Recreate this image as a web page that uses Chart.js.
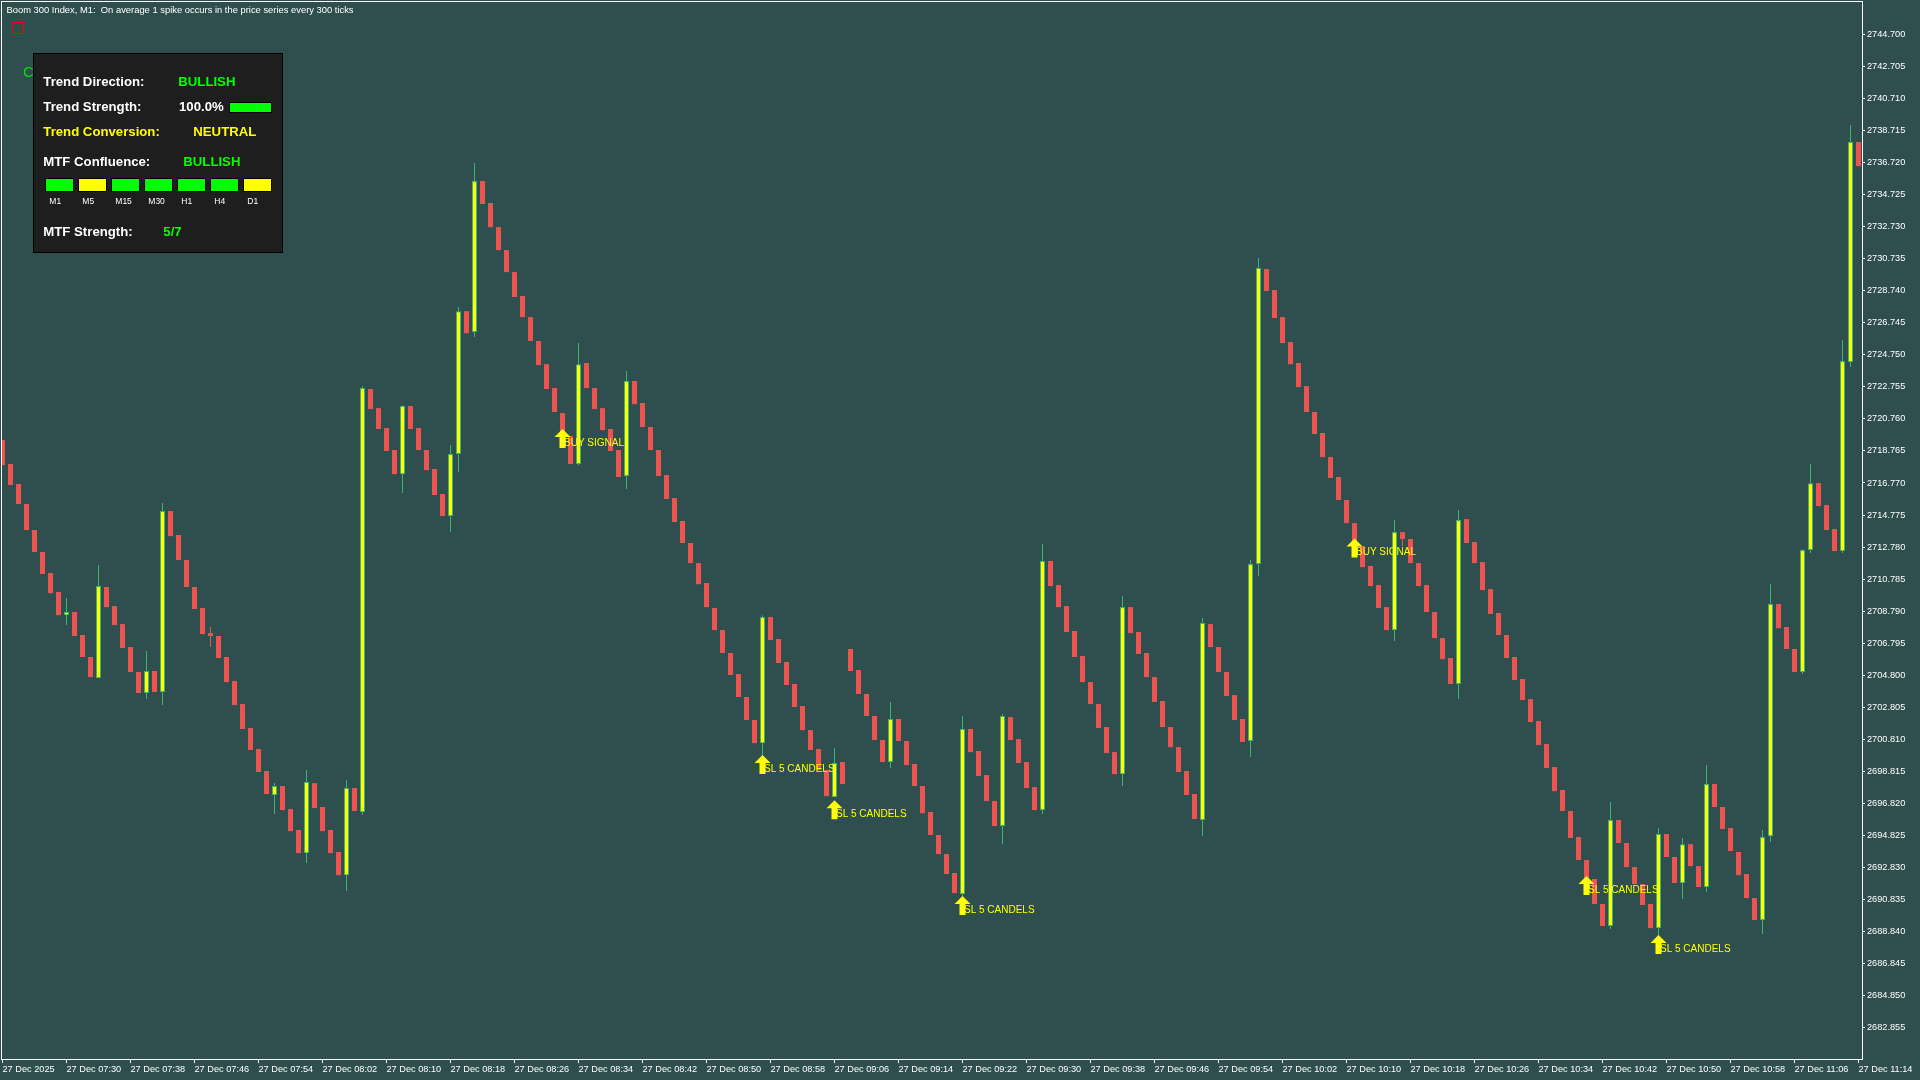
<!DOCTYPE html>
<html><head><meta charset="utf-8">
<script src="https://cdn.jsdelivr.net/npm/chart.js@4.4.1/dist/chart.umd.min.js"></script>
<style>html,body{margin:0;padding:0;background:#2F4F4F;overflow:hidden}canvas{display:block}</style>
</head><body>
<canvas id="c" width="1920" height="1080" style="width:1920px;height:1080px"></canvas>
<script>
// ---- data (Boom 300 Index, M1, one bar per minute from 07:22) ----
const opens = [
2719.44,2717.95,2716.70,2715.46,2713.84,2712.47,2711.16,2709.98,2708.54,2708.73,
2707.30,2705.93,2704.62,2710.29,2709.10,2707.98,2706.55,2705.00,2703.69,2705.06,
2703.75,2715.02,2713.53,2711.97,2710.29,2708.98,2707.42,2707.24,2705.93,2704.43,
2703.00,2701.51,2700.20,2698.83,2697.34,2697.90,2696.46,2695.16,2693.72,2698.08,
2696.59,2695.16,2693.79,2692.35,2697.77,2696.28,2722.62,2721.43,2720.19,2718.82,
2717.32,2721.56,2720.19,2718.82,2717.64,2716.08,2714.71,2718.57,2727.47,2726.17,
2735.57,2734.20,2732.70,2731.27,2729.90,2728.41,2727.10,2725.61,2724.17,2722.68,
2721.12,2719.69,2717.95,2724.24,2722.68,2721.43,2720.13,2718.82,2717.20,2723.12,
2721.75,2720.25,2718.82,2717.26,2715.83,2714.40,2713.03,2711.78,2710.54,2708.98,
2707.61,2706.18,2704.87,2703.44,2702.01,2700.57,2708.42,2707.05,2705.62,2704.25,
2702.88,2701.38,2700.20,2698.89,2697.21,2699.39,2706.43,2705.12,2703.63,2702.26,
2700.76,2699.39,2702.07,2700.70,2699.27,2697.90,2696.28,2694.85,2693.66,2692.48,
2691.17,2701.45,2700.08,2698.58,2696.96,2695.41,2702.19,2700.82,2699.39,2697.83,
2696.40,2711.91,2710.41,2709.10,2707.55,2705.99,2704.37,2703.00,2701.57,2700.01,
2698.64,2709.04,2707.49,2706.18,2704.68,2703.19,2701.57,2700.32,2698.83,2697.40,
2695.78,2707.98,2706.55,2705.00,2703.56,2702.07,2700.70,2711.72,2730.09,2728.78,
2727.10,2725.54,2724.24,2722.80,2721.19,2719.88,2718.38,2717.14,2715.71,2714.27,
2712.84,2711.60,2710.41,2709.04,2707.61,2713.71,2713.28,2711.78,2710.41,2708.73,
2707.11,2705.87,2704.25,2714.52,2713.09,2711.84,2710.16,2708.67,2707.30,2705.93,
2704.56,2703.31,2701.94,2700.51,2699.08,2697.65,2696.34,2694.72,2693.29,2692.11,
2690.55,2689.18,2695.78,2694.35,2692.85,2691.79,2690.55,2689.05,2694.91,2693.48,
2691.86,2694.28,2692.91,2691.61,2698.02,2696.59,2695.28,2693.79,2692.42,2690.92,
2689.55,2694.78,2709.23,2707.80,2706.43,2705.00,2712.59,2716.76,2715.39,2713.90,
2712.53,2724.30,2738.00];
const highs = [
2719.44,2717.95,2716.70,2715.46,2713.84,2712.47,2711.16,2709.98,2709.60,2708.73,
2707.30,2705.93,2711.66,2710.29,2709.10,2707.98,2706.55,2705.00,2706.30,2705.06,
2715.52,2715.02,2713.53,2711.97,2710.29,2708.98,2707.80,2707.24,2705.93,2704.43,
2703.00,2701.51,2700.20,2698.83,2698.08,2697.90,2696.46,2695.16,2698.89,2698.08,
2696.59,2695.16,2693.79,2698.27,2697.77,2722.80,2722.62,2721.43,2720.19,2718.82,
2721.62,2721.56,2720.19,2718.82,2717.64,2716.08,2719.13,2727.72,2727.47,2736.69,
2735.57,2734.20,2732.70,2731.27,2729.90,2728.41,2727.10,2725.61,2724.17,2722.68,
2721.12,2719.69,2725.48,2724.24,2722.68,2721.43,2720.13,2718.82,2723.74,2723.12,
2721.75,2720.25,2718.82,2717.26,2715.83,2714.40,2713.03,2711.78,2710.54,2708.98,
2707.61,2706.18,2704.87,2703.44,2702.01,2708.54,2708.42,2707.05,2705.62,2704.25,
2702.88,2701.38,2700.20,2698.89,2700.26,2699.39,2706.43,2705.12,2703.63,2702.26,
2700.76,2703.13,2702.07,2700.70,2699.27,2697.90,2696.28,2694.85,2693.66,2692.48,
2702.26,2701.45,2700.08,2698.58,2696.96,2702.38,2702.19,2700.82,2699.39,2697.83,
2712.97,2711.91,2710.41,2709.10,2707.55,2705.99,2704.37,2703.00,2701.57,2700.01,
2709.73,2709.04,2707.49,2706.18,2704.68,2703.19,2701.57,2700.32,2698.83,2697.40,
2708.36,2707.98,2706.55,2705.00,2703.56,2702.07,2711.97,2730.78,2730.09,2728.78,
2727.10,2725.54,2724.24,2722.80,2721.19,2719.88,2718.38,2717.14,2715.71,2714.27,
2712.84,2711.60,2710.41,2709.04,2714.46,2713.71,2713.28,2711.78,2710.41,2708.73,
2707.11,2705.87,2715.08,2714.52,2713.09,2711.84,2710.16,2708.67,2707.30,2705.93,
2704.56,2703.31,2701.94,2700.51,2699.08,2697.65,2696.34,2694.72,2693.29,2692.11,
2690.55,2696.90,2695.78,2694.35,2692.85,2691.79,2690.55,2695.28,2694.91,2693.48,
2694.66,2694.28,2692.91,2699.20,2698.02,2696.59,2695.28,2693.79,2692.42,2690.92,
2695.16,2710.47,2709.23,2707.80,2706.43,2712.65,2717.95,2716.76,2715.39,2713.90,
2725.67,2739.06,2738.00];
const lows = [
2717.88,2716.64,2715.46,2713.84,2712.47,2711.10,2709.91,2708.54,2707.92,2707.24,
2705.93,2704.68,2704.62,2709.04,2707.92,2706.49,2705.00,2703.69,2703.31,2703.75,
2702.94,2713.46,2711.97,2710.29,2708.92,2707.36,2706.55,2705.87,2704.37,2702.94,
2701.45,2700.14,2698.77,2697.40,2696.15,2696.40,2695.09,2693.72,2693.10,2696.53,
2695.09,2693.72,2692.35,2691.36,2696.34,2696.09,2721.37,2720.13,2718.76,2717.32,
2716.14,2720.13,2718.82,2717.57,2716.02,2714.71,2713.71,2717.45,2726.10,2725.86,
2734.14,2732.70,2731.27,2729.90,2728.35,2727.10,2725.61,2724.11,2722.62,2721.19,
2719.63,2717.95,2717.88,2722.68,2721.37,2720.06,2718.76,2717.14,2716.39,2721.68,
2720.25,2718.82,2717.20,2715.77,2714.34,2713.03,2711.78,2710.47,2709.04,2707.61,
2706.18,2704.81,2703.44,2702.01,2700.57,2699.70,2706.99,2705.56,2704.19,2702.82,
2701.38,2700.14,2698.89,2697.27,2697.21,2698.02,2705.06,2703.63,2702.26,2700.76,
2699.39,2699.02,2700.70,2699.20,2697.90,2696.21,2694.85,2693.66,2692.42,2691.23,
2690.98,2700.01,2698.52,2696.96,2695.41,2694.28,2700.76,2699.33,2697.77,2696.40,
2696.15,2710.35,2709.04,2707.49,2705.93,2704.37,2703.00,2701.51,2699.95,2698.64,
2697.90,2707.42,2706.12,2704.68,2703.13,2701.57,2700.32,2698.77,2697.34,2695.84,
2694.78,2706.55,2705.00,2703.50,2702.01,2700.64,2699.70,2710.97,2728.72,2727.04,
2725.48,2724.17,2722.74,2721.19,2719.82,2718.38,2717.08,2715.71,2714.27,2712.84,
2711.53,2710.35,2708.98,2707.61,2706.93,2712.84,2711.78,2710.35,2708.73,2707.11,
2705.80,2704.25,2703.31,2713.03,2711.78,2710.10,2708.61,2707.30,2705.87,2704.50,
2703.25,2701.88,2700.45,2699.02,2697.58,2696.34,2694.66,2693.29,2692.11,2690.55,
2689.18,2688.99,2694.35,2692.85,2691.79,2690.49,2689.05,2688.49,2693.48,2691.86,
2690.86,2692.91,2691.61,2691.30,2696.59,2695.22,2693.85,2692.35,2690.92,2689.55,
2688.68,2694.41,2707.73,2706.43,2705.00,2704.87,2712.41,2715.33,2713.84,2712.53,
2712.41,2723.99,2736.50];
const closes = [
2717.88,2716.64,2715.46,2713.84,2712.47,2711.10,2709.91,2708.54,2708.73,2707.24,
2705.93,2704.68,2710.35,2709.04,2707.92,2706.49,2705.00,2703.69,2705.06,2703.75,
2715.02,2713.46,2711.97,2710.29,2708.92,2707.36,2707.24,2705.87,2704.37,2702.94,
2701.45,2700.14,2698.77,2697.40,2697.90,2696.40,2695.09,2693.72,2698.15,2696.53,
2695.09,2693.72,2692.35,2697.77,2696.34,2722.68,2721.37,2720.13,2718.76,2717.32,
2721.56,2720.13,2718.82,2717.57,2716.02,2714.71,2718.57,2727.47,2726.10,2735.57,
2734.14,2732.70,2731.27,2729.90,2728.35,2727.10,2725.61,2724.11,2722.62,2721.19,
2719.63,2717.95,2724.17,2722.68,2721.37,2720.06,2718.76,2717.14,2723.12,2721.68,
2720.25,2718.82,2717.20,2715.77,2714.34,2713.03,2711.78,2710.47,2709.04,2707.61,
2706.18,2704.81,2703.44,2702.01,2700.57,2708.42,2706.99,2705.56,2704.19,2702.82,
2701.38,2700.14,2698.89,2697.27,2699.33,2698.02,2705.06,2703.63,2702.26,2700.76,
2699.39,2702.07,2700.70,2699.20,2697.90,2696.21,2694.85,2693.66,2692.42,2691.23,
2701.45,2700.01,2698.52,2696.96,2695.41,2702.26,2700.76,2699.33,2697.77,2696.40,
2711.91,2710.35,2709.04,2707.49,2705.93,2704.37,2703.00,2701.51,2699.95,2698.64,
2709.04,2707.42,2706.12,2704.68,2703.13,2701.57,2700.32,2698.77,2697.34,2695.84,
2708.05,2706.55,2705.00,2703.50,2702.01,2700.64,2711.72,2730.15,2728.72,2727.04,
2725.48,2724.17,2722.74,2721.19,2719.82,2718.38,2717.08,2715.71,2714.27,2712.84,
2711.53,2710.35,2708.98,2707.61,2713.71,2713.28,2711.78,2710.35,2708.73,2707.11,
2705.80,2704.25,2714.46,2713.03,2711.78,2710.10,2708.61,2707.30,2705.87,2704.50,
2703.25,2701.88,2700.45,2699.02,2697.58,2696.34,2694.66,2693.29,2692.11,2690.55,
2689.18,2695.78,2694.35,2692.85,2691.79,2690.49,2689.05,2694.91,2693.48,2691.86,
2694.28,2692.91,2691.61,2698.02,2696.59,2695.22,2693.85,2692.35,2690.92,2689.55,
2694.72,2709.23,2707.73,2706.43,2705.00,2712.59,2716.76,2715.33,2713.84,2712.53,
2724.36,2738.00,2736.50];

const yTickLabels = ["2744.700","2742.705","2740.710","2738.715","2736.720","2734.725","2732.730","2730.735",
"2728.740","2726.745","2724.750","2722.755","2720.760","2718.765","2716.770","2714.775","2712.780","2710.785",
"2708.790","2706.795","2704.800","2702.805","2700.810","2698.815","2696.820","2694.825","2692.830","2690.835",
"2688.840","2686.845","2684.850","2682.855"];
const xTickLabels = ["27 Dec 2025","27 Dec 07:30","27 Dec 07:38","27 Dec 07:46","27 Dec 07:54","27 Dec 08:02",
"27 Dec 08:10","27 Dec 08:18","27 Dec 08:26","27 Dec 08:34","27 Dec 08:42","27 Dec 08:50","27 Dec 08:58",
"27 Dec 09:06","27 Dec 09:14","27 Dec 09:22","27 Dec 09:30","27 Dec 09:38","27 Dec 09:46","27 Dec 09:54",
"27 Dec 10:02","27 Dec 10:10","27 Dec 10:18","27 Dec 10:26","27 Dec 10:34","27 Dec 10:42","27 Dec 10:50",
"27 Dec 10:58","27 Dec 11:06","27 Dec 11:14"];
const xTickBars = [0,8,16,24,32,40,48,56,64,72,80,88,96,104,112,120,128,136,144,152,160,168,176,184,192,200,208,216,224,232];

const signalBars   = [70, 95, 104, 120, 169, 198, 207];
const signalPrices = [2720.13, 2699.83, 2697.02, 2691.05, 2713.31, 2692.29, 2688.62];
const signalTexts  = ["BUY SIGNAL","SL 5 CANDELS","SL 5 CANDELS","SL 5 CANDELS","BUY SIGNAL","SL 5 CANDELS","SL 5 CANDELS"];

const tfNames  = ["M1","M5","M15","M30","H1","H4","D1"];
const tfStates = ["bull","neutral","bull","bull","bull","bull","neutral"];

// ---- styling ----
const BG = '#2F4F4F', BULL = '#FFFF00', BULL_EDGE = '#3CB371', BEAR = '#EF5350';
const LIME = '#00FF00', YEL = '#FFFF00';
const FONT = '"Liberation Sans", Arial, sans-serif';

const isBull = closes.map((c,i)=> c >= opens[i]);
const bodyData = opens.map((o,i)=>({x:i, y:[o, closes[i]]}));
const wickData = lows.map((l,i)=>({x:i, y:[l, highs[i]]}));

const noPad = ax => { ax.paddingTop = 0; ax.paddingBottom = 0; ax.paddingLeft = 0; ax.paddingRight = 0; };

const overlay = {
  id:'overlay',
  beforeDraw(chart){
    const ctx = chart.ctx;
    ctx.save(); ctx.fillStyle = BG; ctx.fillRect(0,0,chart.width,chart.height); ctx.restore();
  },
  afterDatasetsDraw(chart){
    const ctx = chart.ctx, xs = chart.scales.x, ys = chart.scales.y, a = chart.chartArea;
    ctx.save();
    ctx.beginPath(); ctx.rect(a.left, a.top, a.right-a.left, a.bottom-a.top); ctx.clip();
    signalBars.forEach((b,k)=>{
      const cx = xs.getPixelForValue(b), top = ys.getPixelForValue(signalPrices[k]);
      ctx.fillStyle = YEL;
      ctx.beginPath();
      ctx.moveTo(cx, top); ctx.lineTo(cx+8, top+8); ctx.lineTo(cx+3, top+8); ctx.lineTo(cx+3, top+19);
      ctx.lineTo(cx-3, top+19); ctx.lineTo(cx-3, top+8); ctx.lineTo(cx-8, top+8); ctx.closePath(); ctx.fill();
      ctx.font = '10px ' + FONT; ctx.textBaseline = 'middle'; ctx.textAlign = 'left';
      ctx.fillText(signalTexts[k], cx+1.5, top+14);
    });
    ctx.restore();
  },
  afterDraw(chart){
    const ctx = chart.ctx, a = chart.chartArea;
    ctx.save();
    // frame
    ctx.strokeStyle = '#FFFFFF'; ctx.lineWidth = 1;
    ctx.strokeRect(a.left-0.5, a.top-0.5, a.right-a.left+1, a.bottom-a.top+1);
    // title
    ctx.fillStyle = '#FFFFFF'; ctx.font = '9.4px ' + FONT; ctx.textBaseline = 'alphabetic'; ctx.textAlign = 'left';
    ctx.fillText('Boom 300 Index, M1:  On average 1 spike occurs in the price series every 300 ticks', 6.5, 12.7);
    // small red square
    ctx.strokeStyle = '#FF0000'; ctx.strokeRect(12.5, 22.5, 11, 11);
    // green letter peeking out behind the panel
    ctx.fillStyle = '#00E000'; ctx.font = '15px ' + FONT; ctx.fillText('C', 23, 76.5);
    // panel
    ctx.fillStyle = '#1E1E1E'; ctx.fillRect(33, 53, 250, 200);
    ctx.strokeStyle = '#000000'; ctx.strokeRect(33.5, 53.5, 249, 199);
    ctx.font = 'bold 13.2px ' + FONT;
    const rows = [
      ['Trend Direction:', 43.3, 86, '#FFFFFF'], ['BULLISH', 178.3, 86, LIME],
      ['Trend Strength:', 43.3, 111, '#FFFFFF'], ['100.0%', 179, 111, '#FFFFFF'],
      ['Trend Conversion:', 43.3, 136, YEL], ['NEUTRAL', 193.3, 136, YEL],
      ['MTF Confluence:', 43.3, 165.7, '#FFFFFF'], ['BULLISH', 183.3, 165.7, LIME],
      ['MTF Strength:', 43.3, 236, '#FFFFFF'], ['5/7', 163.3, 236, LIME]
    ];
    rows.forEach(r=>{ ctx.fillStyle = r[3]; ctx.fillText(r[0], r[1], r[2]); });
    // strength bar
    ctx.fillStyle = LIME; ctx.fillRect(229, 102, 43, 11);
    ctx.strokeStyle = '#000'; ctx.strokeRect(229.5, 102.5, 42, 10);
    // MTF boxes
    ctx.font = '8.5px ' + FONT;
    tfNames.forEach((n,k)=>{
      const x = 45 + 33*k;
      ctx.fillStyle = tfStates[k] === 'bull' ? LIME : YEL;
      ctx.fillRect(x, 178, 29, 14);
      ctx.strokeStyle = '#000'; ctx.strokeRect(x+0.5, 178.5, 28, 13);
      ctx.fillStyle = '#FFFFFF'; ctx.fillText(n, x+4.3, 204);
    });
    ctx.restore();
  }
};

new Chart(document.getElementById('c'), {
  type:'bar',
  data:{ datasets:[
    { label:'body', data: bodyData, grouped:false, barThickness:5, inflateAmount:0,
      backgroundColor: isBull.map(b=> b ? BULL : BEAR),
      borderColor: isBull.map(b=> b ? BULL_EDGE : BEAR),
      borderWidth: isBull.map(b=> b ? 1 : 0), borderSkipped:false },
    { label:'wick', data: wickData, grouped:false, barThickness:1, inflateAmount:0,
      backgroundColor: isBull.map(b=> b ? BULL_EDGE : BEAR), borderWidth:0 }
  ]},
  options:{
    responsive:false, animation:false, devicePixelRatio:1,
    layout:{ padding:{ left:2, top:2, right:0, bottom:0 } },
    plugins:{ legend:{display:false}, tooltip:{enabled:false} },
    scales:{
      x:{ type:'linear', position:'bottom', min:-0.0625, max:232.4375, offset:false,
        afterBuildTicks: ax => { ax.ticks = xTickBars.map(v=>({value:v})); },
        afterFit: ax => { ax.height = 21; noPad(ax); },
        grid:{ display:true, drawOnChartArea:false, drawTicks:true, tickLength:4, color:'#FFFFFF', offset:false },
        border:{ display:false },
        ticks:{ autoSkip:false, maxRotation:0, minRotation:0, align:'start', padding:1, color:'#FFFFFF',
          font:{ family:FONT, size:9.2 }, callback:(v,i)=> xTickLabels[i] } },
      y:{ type:'linear', position:'right', min:2680.90, max:2746.72, beginAtZero:false,
        afterBuildTicks: ax => { ax.ticks = yTickLabels.map(s=>({value:parseFloat(s)})); },
        afterFit: ax => { ax.width = 58; noPad(ax); },
        grid:{ display:true, drawOnChartArea:false, drawTicks:true, tickLength:3, color:'#FFFFFF' },
        border:{ display:false },
        ticks:{ autoSkip:false, padding:2, color:'#FFFFFF', font:{ family:FONT, size:9.2 },
          callback:(v,i)=> yTickLabels[i] } }
    }
  },
  plugins:[overlay]
});
</script>
</body></html>
